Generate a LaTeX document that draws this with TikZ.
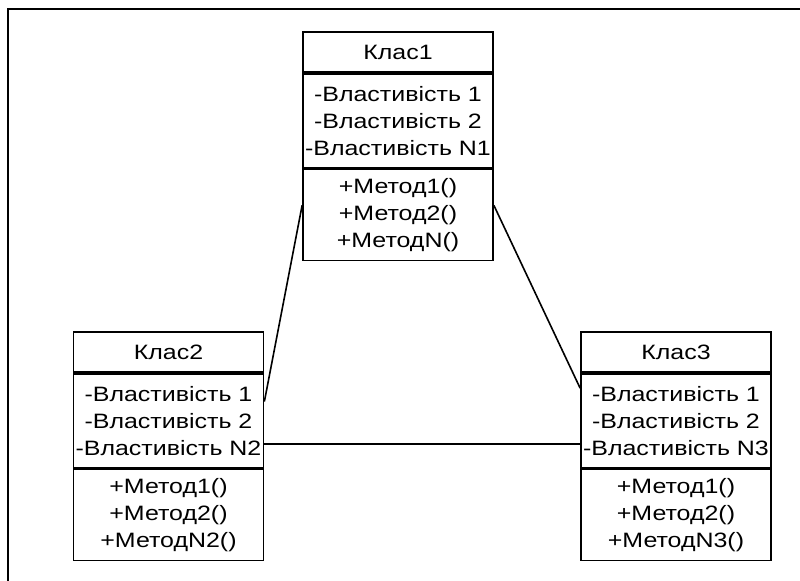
\documentclass[tikz,border=0pt]{standalone}
\usepackage{fontspec}
\setmainfont{Liberation Sans}[FakeStretch=1.2]
\usetikzlibrary{calc}
\begin{document}
\begin{tikzpicture}[x=0.75pt,y=-0.75pt,
  box/.style={draw=black, line width=1.3pt, rectangle, inner sep=0pt,
    minimum width=142.5pt, align=center,
    font=\fontsize{15.6}{20.25}\selectfont},
  hdr/.style={box, minimum height=30pt},
  attrs/.style={box, minimum height=70.5pt, anchor=north},
  meths/.style={box, minimum height=68.25pt, anchor=north},
  link/.style={draw=black, line width=1.2pt}]
\useasboundingbox (0,0) rectangle (800,581);
% outer frame
\draw[line width=1.5pt] (800,9) -- (8,9) -- (8,581);
% Class 1
\node[hdr] (k1h) at (398,52) {Клас1};
\node[attrs] (k1a) at (k1h.south) {-Властивість 1\\-Властивість 2\\-Властивість N1};
\node[meths] (k1m) at (k1a.south) {+Метод1()\\+Метод2()\\+МетодN()};
% Class 2
\node[hdr] (k2h) at (168.5,352) {Клас2};
\node[attrs] (k2a) at (k2h.south) {-Властивість 1\\-Властивість 2\\-Властивість N2};
\node[meths] (k2m) at (k2a.south) {+Метод1()\\+Метод2()\\+МетодN2()};
% Class 3
\node[hdr] (k3h) at (676,352) {Клас3};
\node[attrs] (k3a) at (k3h.south) {-Властивість 1\\-Властивість 2\\-Властивість N3};
\node[meths] (k3m) at (k3a.south) {+Метод1()\\+Метод2()\\+МетодN3()};
% connector end points
\coordinate (p1l) at ($(k1m.north west)!0.396!(k1m.south west)$);
\coordinate (p1r) at ($(k1m.north east)!0.396!(k1m.south east)$);
\coordinate (p2a) at ($(k2a.north east)!0.30!(k2a.south east)$);
\coordinate (p3a) at ($(k3a.north west)!0.16!(k3a.south west)$);
\coordinate (p2b) at ($(k2a.north east)!0.745!(k2a.south east)$);
\coordinate (p3b) at ($(k3a.north west)!0.745!(k3a.south west)$);
\draw[link] (p1l) -- (p2a);
\draw[link] (p1r) -- (p3a);
\draw[link] (p2b) -- (p3b);
\end{tikzpicture}
\end{document}
